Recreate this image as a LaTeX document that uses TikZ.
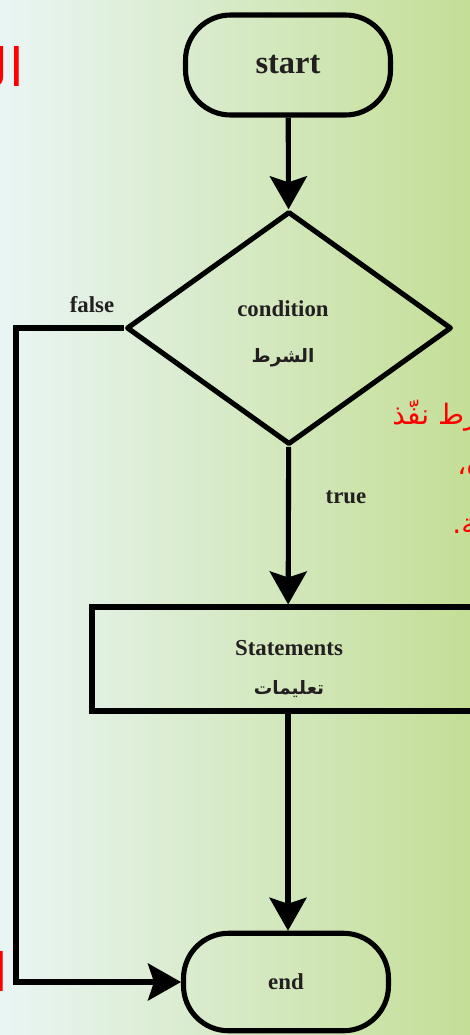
\documentclass[tikz,border=0pt]{standalone}
\usepackage{fontspec}
\usepackage{tikz}
\usepackage{xcolor}
\usetikzlibrary{shapes,arrows.meta,positioning,shapes.geometric}
\setmainfont{Liberation Serif}
\newfontfamily\arfont[Script=Arabic]{DejaVu Sans}
\TeXXeTstate=1
\definecolor{bgleft}{RGB}{233, 245, 244}
\definecolor{bgmid}{RGB}{223, 238, 216}
\definecolor{bgright}{RGB}{196, 222, 150}
\definecolor{ink}{RGB}{35, 31, 32}
\definecolor{note}{RGB}{255, 0, 0}
\tikzstyle{arrow} = [
    line width=2.9pt,
    -{Stealth[length=0.66cm,width=0.74cm,inset=0.12cm]},
    draw=black
]
\tikzstyle{terminal} = [
    rectangle,
    rounded corners=0.9cm,
    minimum width=4.1cm,
    minimum height=2cm,
    line width=2.9pt,
    draw=black,
    text=ink,
    font=\bfseries\fontsize{13}{15}\selectfont
]
\tikzstyle{decision} = [
    diamond,
    minimum width=6.5cm,
    minimum height=4.66cm,
    inner sep=0pt,
    line width=2.9pt,
    line join=round,
    draw=black
]
\tikzstyle{process} = [
    rectangle,
    minimum width=7.84cm,
    minimum height=2.08cm,
    line width=2.9pt,
    draw=black
]
\tikzstyle{caption} = [
    text=ink,
    inner sep=0pt,
    font=\bfseries\fontsize{13}{15}\selectfont
]
\tikzstyle{arcaption} = [
    text=ink,
    inner sep=0pt,
    font=\arfont\bfseries\fontsize{10.5}{12}\selectfont
]
\tikzstyle{note} = [
    text=note,
    inner sep=0pt,
    font=\arfont\fontsize{16}{18}\selectfont
]

\begin{document}
\begin{tikzpicture}[x=0.02cm, y=-0.02cm]
    % Page and background
    \useasboundingbox (0,0) rectangle (470,1035);
    \clip (0,0) rectangle (470,1035);
    \shade[left color=bgleft, middle color=bgmid, right color=bgright] (0,0) rectangle (470,1035);

    % Notes running off the page
    \node[note, anchor=base east, font=\arfont\fontsize{30}{32}\selectfont] (title) at (24,86) {\beginR الشرط\endR};
    \node[note, anchor=base west] (notea) at (392,424) {\beginR الشرط نفّذ\endR};
    \node[note, anchor=base west] (noteb) at (457,474) {\beginR ه،\endR};
    \node[note, anchor=base west] (notec) at (452,533) {\beginR ية.\endR};
    \node[note, anchor=base east, font=\arfont\fontsize{30}{32}\selectfont] (noted) at (8,991) {\beginR ا\endR};

    % Flowchart
    \node[terminal, font=\bfseries\fontsize{18.5}{20}\selectfont] (start) at (288,65) {start};
    \node[decision] (cond) at (289,328) {};
    \node[process] (stmt) at (288,659) {};
    \node[terminal, minimum height=1.95cm] (end) at (286,982) {end};
    \coordinate (side) at (16,0);

    % Texts in the boxes
    \node[caption] (condtxt) at (283,309) {condition};
    \node[arcaption] (condar) at (283,358) {\beginR الشرط\endR};
    \node[caption] (stmttxt) at (289,648) {Statements};
    \node[arcaption] (stmtar) at (289,689) {\beginR تعليمات\endR};

    % Branch labels
    \node[caption] (falselbl) at (92,305) {false};
    \node[caption] (truelbl) at (346,497) {true};

    % Connectors
    \draw[arrow] (start) -- (cond);
    \draw[arrow] (cond) -- (stmt);
    \draw[arrow] (stmt.south) -- (stmt.south |- end.north);
    \draw[arrow] (cond.west) -- (cond.west -| side) |- (end.west);
\end{tikzpicture}
\end{document}
